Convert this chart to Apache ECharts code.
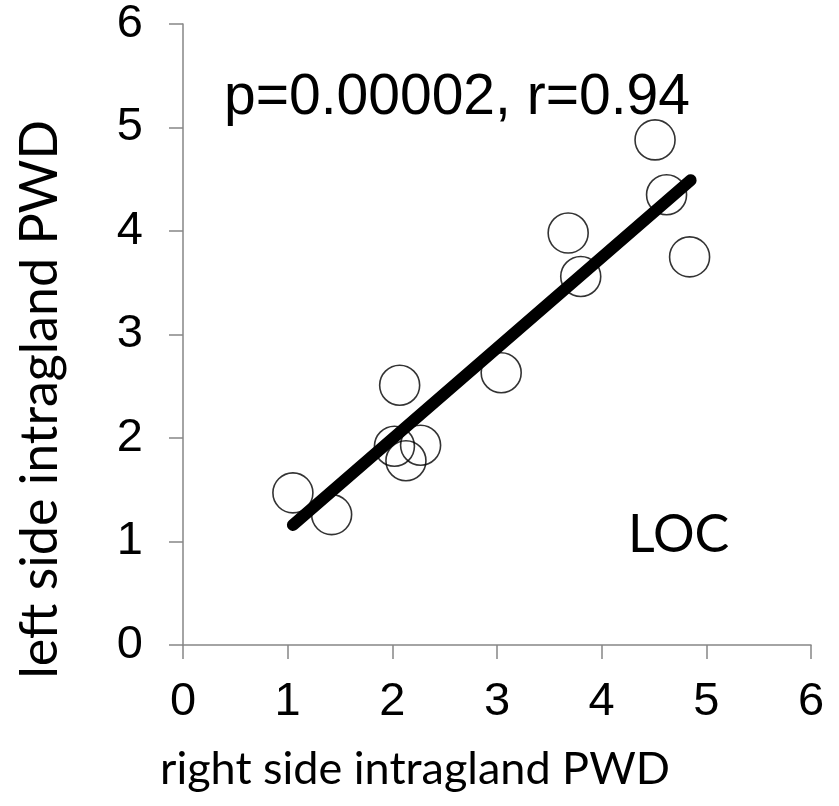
<!DOCTYPE html>
<html>
<head>
<meta charset="utf-8">
<script src="https://cdn.jsdelivr.net/npm/echarts@6/dist/echarts.min.js"></script>
<style>html,body{margin:0;padding:0;background:#fff;}#c{width:839px;height:806px;}</style>
</head>
<body>
<div id="c"></div>
<script>
var rightPWD = [1.05, 1.42, 2.07, 2.02, 2.27, 2.13, 3.04, 3.68, 3.80, 4.51, 4.62, 4.84];
var leftPWD  = [1.47, 1.26, 2.51, 1.92, 1.93, 1.78, 2.63, 3.98, 3.56, 4.88, 4.35, 3.75];
var fitX = [1.05, 4.85];
var fitY = [1.16, 4.49];
var xTicks = [0, 1, 2, 3, 4, 5, 6];
var yTicks = [0, 1, 2, 3, 4, 5, 6];
var statsText = 'p=0.00002, r=0.94';
var groupText = 'LOC';
var xTitle = 'right side intragland PWD';
var yTitle = 'left side intragland PWD';

var chart = echarts.init(document.getElementById('c'));
var axisCommon = {
  type: 'value', min: xTicks[0], max: xTicks[xTicks.length - 1], interval: 1,
  splitLine: { show: false },
  axisLine: { show: true, onZero: false, lineStyle: { color: '#868686', width: 1.5 } },
  axisTick: { show: true, inside: false, length: 14, lineStyle: { color: '#868686', width: 1.5 } },
  axisLabel: { color: '#000', fontFamily: 'Liberation Sans', fontSize: 47 }
};
var option = {
  animation: false,
  grid: { left: 183, right: 28, top: 24, bottom: 161 },
  xAxis: Object.assign({}, axisCommon, {
    axisLabel: Object.assign({}, axisCommon.axisLabel, { margin: 34 })
  }),
  yAxis: Object.assign({}, axisCommon, {
    min: yTicks[0], max: yTicks[yTicks.length - 1],
    axisLabel: Object.assign({}, axisCommon.axisLabel, { margin: 40 })
  }),
  series: [
    {
      type: 'scatter',
      data: rightPWD.map(function (x, i) { return [x, leftPWD[i]]; }),
      symbol: 'circle', symbolSize: 40,
      itemStyle: { color: 'rgba(255,255,255,0)', borderColor: '#000', borderWidth: 1.6 },
      z: 2
    },
    {
      type: 'line',
      data: fitX.map(function (x, i) { return [x, fitY[i]]; }),
      symbol: 'none',
      lineStyle: { color: '#000', width: 12, cap: 'round' },
      z: 3
    }
  ],
  graphic: [
    { type: 'text', left: 224, top: 70, style: { text: statsText, font: '57px "Liberation Sans"', fill: '#000' } },
    { type: 'text', left: 628, top: 509, style: { text: groupText, font: '52px Lato', fill: '#000' } },
    { type: 'text', left: 160, top: 747, style: { text: xTitle, font: '45px Lato', fill: '#000' } },
    { type: 'text', left: 14, top: 120, rotation: Math.PI / 2,
      style: { text: yTitle, font: '52px Lato', fill: '#000' } }
  ]
};
chart.setOption(option);
</script>
</body>
</html>
